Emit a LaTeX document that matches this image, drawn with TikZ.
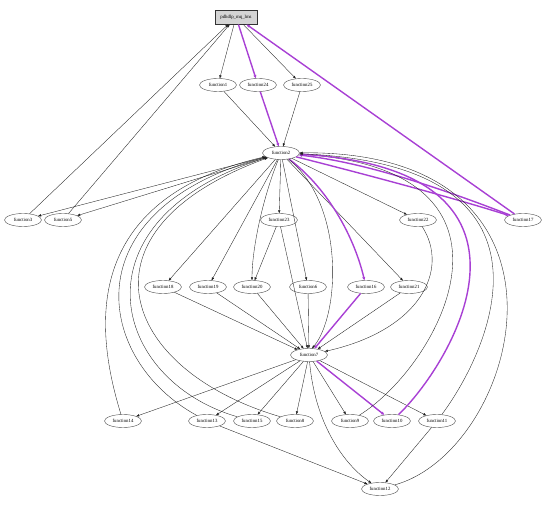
\documentclass[tikz,border=0pt]{standalone}
\usepackage{fontspec}
\setmainfont{Liberation Serif}
\usetikzlibrary{arrows.meta,shapes.geometric}
\definecolor{hlc}{RGB}{168,64,212}
\definecolor{boxfill}{RGB}{212,212,212}
\definecolor{edgec}{RGB}{30,30,30}
\begin{document}
\begin{tikzpicture}[x=1pt,y=-1pt,
  fn/.style={draw=black!70, ellipse, minimum width=37pt, minimum height=13pt, inner sep=0pt,
    font=\fontsize{4.8}{5}\selectfont, line width=0.4pt},
  pdbox/.style={draw=black!80, fill=boxfill, rectangle, minimum width=42pt, minimum height=14pt,
    inner sep=0pt, line width=0.9pt, font=\fontsize{4.8}{5}\selectfont},
  e/.style={draw=edgec, line width=0.35pt, -{Triangle[length=3pt,width=2.2pt]}},
  hl/.style={draw=hlc, line width=1.4pt, -{Triangle[length=3.2pt,width=2.8pt]}}]
\path[use as bounding box] (0,0) rectangle (555,510);

\node[pdbox] (pd) at (236,17) {pdhdlp\_mq\_lms};
\node[fn] (f1) at (218,85) {function1};
\node[fn] (f24) at (258,85) {function24};
\node[fn] (f25) at (302,85) {function25};
\node[fn] (f2) at (281,153) {function2};
\node[fn] (f3) at (23,220) {function3};
\node[fn] (f5) at (63,220) {function5};
\node[fn] (f23) at (279,220) {function23};
\node[fn] (f22) at (418,220) {function22};
\node[fn] (f17) at (523,220) {function17};
\node[fn] (f18) at (163,287) {function18};
\node[fn] (f19) at (208,287) {function19};
\node[fn] (f20) at (252,287) {function20};
\node[fn] (f6) at (308,287) {function6};
\node[fn] (f16) at (366,287) {function16};
\node[fn] (f21) at (409,287) {function21};
\node[fn] (f7) at (309,355) {function7};
\node[fn] (f14) at (123,421) {function14};
\node[fn] (f13) at (207,421) {function13};
\node[fn] (f15) at (252,421) {function15};
\node[fn] (f8) at (295,421) {function8};
\node[fn] (f9) at (350,421) {function9};
\node[fn] (f10) at (392,421) {function10};
\node[fn] (f11) at (437,421) {function11};
\node[fn] (f12) at (380,489) {function12};

% top level
\draw[e] (pd) -- (f1);
\draw[e] (pd) -- (f25);
\draw[hl] (pd) -- (f24);
\draw[e] (f1) -- (f2);
\draw[e] (f25) -- (f2);
\draw[hl] (f24) -- (f2);
\draw[e] (f3) -- (pd);
\draw[e] (f5) -- (pd);
\draw[hl] (f17) -- (pd);

% from function2
\draw[e] (f2) -- (f3);
\draw[e] (f2) -- (f5);
\draw[e] (f2) -- (f23);
\draw[e] (f2) -- (f22);
\draw[e] (f2) -- (f18);
\draw[e] (f2) -- (f19);
\draw[e] (f2) .. controls (262,200) and (252,250) .. (f20);
\draw[e] (f2) -- (f6);
\draw[e] (f2) -- (f21);
\draw[hl] (f2) .. controls (330,190) and (355,240) .. (f16);
\draw[hl] (f2) .. controls (380,178) and (460,200) .. (f17);
\draw[hl] (f17) .. controls (450,192) and (370,163) .. (f2);
\draw[e] (f2) .. controls (345,205) and (340,315) .. (f7.65);

% second level
\draw[e] (f23) -- (f20);
\draw[e] (f23) -- (f7);
\draw[e] (f22) .. controls (450,270) and (420,330) .. (f7);
\draw[e] (f18) -- (f7);
\draw[e] (f19) -- (f7);
\draw[e] (f20) -- (f7);
\draw[e] (f6) -- (f7);
\draw[hl] (f16) -- (f7);
\draw[e] (f21) -- (f7);

% from function7
\draw[e] (f7) -- (f14);
\draw[e] (f7) -- (f13);
\draw[e] (f7) -- (f15);
\draw[e] (f7) -- (f8);
\draw[e] (f7) -- (f9);
\draw[hl] (f7) -- (f10);
\draw[e] (f7) -- (f11);
\draw[e] (f7) .. controls (315,425) and (345,465) .. (f12);
\draw[e] (f13) -- (f12);
\draw[e] (f11) -- (f12);

% back edges to function2
\draw[e] (f14) .. controls (95,330) and (80,200) .. (f2);
\draw[e] (f13) .. controls (95,360) and (70,210) .. (f2);
\draw[e] (f15) .. controls (110,380) and (70,220) .. (f2);
\draw[e] (f8) .. controls (120,370) and (70,230) .. (f2);
\draw[e] (f9) .. controls (440,365) and (545,170) .. (f2);
\draw[hl] (f10) .. controls (455,360) and (565,170) .. (f2);
\draw[e] (f11) .. controls (490,350) and (575,165) .. (f2);
\draw[e] (f12) .. controls (520,450) and (600,150) .. (f2);
\end{tikzpicture}
\end{document}
